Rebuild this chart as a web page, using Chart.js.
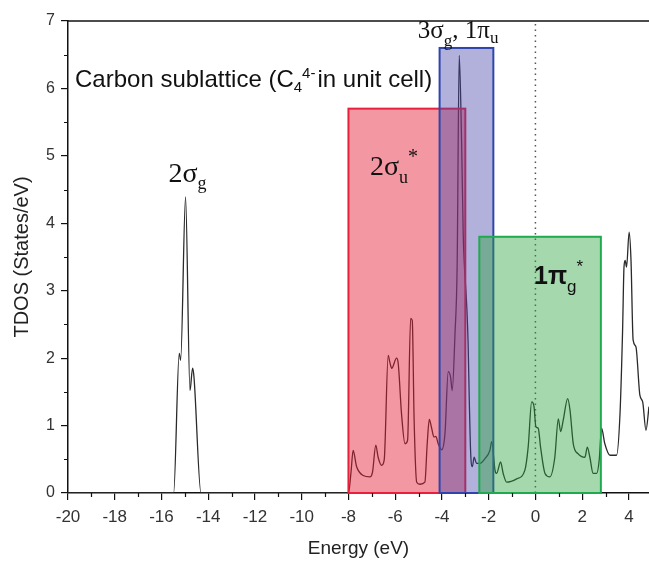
<!DOCTYPE html>
<html>
<head>
<meta charset="utf-8">
<script src="https://cdn.jsdelivr.net/npm/chart.js@4"></script>
<style>
  html, body { margin: 0; padding: 0; background: #fff; }
  #chart { display: block; }
</style>
</head>
<body>
<canvas id="chart" width="649" height="563"></canvas>
<script>
// Energy axis (eV) and total DOS
const energy = [
    -20, -15.6, -15.48, -15.24, -15.18, -14.97, -14.78, -14.67, -14.61, -14.31,
    -8.0, -7.89, -7.80, -7.65, -7.37, -7.08, -6.97, -6.83, -6.73, -6.58, -6.47,
    -6.30, -6.23, -6.15, -5.94, -5.87, -5.73, -5.58, -5.47, -5.34, -5.27, -5.19,
    -5.08, -4.94, -4.73, -4.63, -4.54, -4.44, -4.34, -4.26, -4.16, -4.01, -3.87,
    -3.73, -3.63, -3.56, -3.44, -3.35, -3.26, -3.16, -3.09, -3.05, -2.93, -2.88,
    -2.83, -2.77, -2.70, -2.62, -2.52, -2.37, -2.16, -1.95, -1.87, -1.73, -1.66,
    -1.49, -1.38, -1.23, -0.80, -0.45, -0.31, -0.16, -0.06, 0.02, 0.12, 0.22,
    0.41, 0.62, 0.83, 0.98, 1.08, 1.19, 1.38, 1.48, 1.62, 1.83, 2.12, 2.22,
    2.33, 2.47, 2.62, 2.73, 2.83, 2.97, 3.19, 3.47, 3.62, 3.73, 3.79, 3.84,
    3.90, 4.01, 4.09, 4.18, 4.30, 4.47, 4.59, 4.73, 4.86
];
const tdos = [
    0, 0, 0, 2.07, 1.97, 4.39, 1.52, 1.85, 1.72, 0,
    0, 0.31, 0.63, 0.39, 0.26, 0.24, 0.31, 0.71, 0.53, 0.41, 0.49,
    2.04, 1.94, 1.85, 2.0, 1.92, 1.18, 0.73, 0.78, 2.59, 2.56, 1.08,
    0.16, 0.13, 0.16, 0.73, 1.09, 0.96, 0.83, 0.84, 0.73, 0.64, 0.88,
    1.8, 1.72, 1.52, 2.37, 3.35, 6.49, 5.23, 3.85, 3.45, 2.71, 2.22,
    1.38, 0.59, 0.39, 0.53, 0.44, 0.44, 0.51, 0.63, 0.76, 0.34, 0.29,
    0.46, 0.29, 0.16, 0.21, 0.34, 0.68, 1.35, 1.28, 0.98, 0.96, 0.68,
    0.29, 0.24, 0.53, 1.10, 0.91, 1.08, 1.40, 1.23, 0.73, 0.58, 0.53, 0.68,
    0.53, 0.29, 0.29, 0.49, 0.96, 0.73, 0.56, 0.56, 1.18, 2.41, 3.35, 3.45,
    3.35, 3.87, 3.45, 2.27, 2.17, 1.45, 1.35, 0.93, 1.28
];

// Orbital bands (energy window and box height)
const bandStart = [-8.0, -4.1, -2.4];
const bandEnd = [-3.0, -1.8, 2.8];
const bandTop = [5.7, 6.6, 3.8];

const fermiLevel = 0;
const xMin = -20, xMax = 4.86;
const yMin = 0, yMax = 7;

// styling for each band box
const bandStyles = [
    { fill: 'rgba(228, 30, 55, 0.46)', stroke: '#e8203c' },
    { fill: 'rgba(70, 70, 170, 0.42)', stroke: '#2f45ad' },
    { fill: 'rgba(40, 165, 60, 0.42)', stroke: '#1faa50' }
];

const SANS = '"Liberation Sans", Arial, sans-serif';
const SERIF = '"Liberation Serif", "Times New Roman", serif';

// draw a string made of pieces (sub/superscripts)
function drawParts(ctx, x, y, parts) {
    let cx = x;
    parts.forEach(p => {
        ctx.font = p.font;
        ctx.fillText(p.text, cx, y + (p.dy || 0));
        cx += ctx.measureText(p.text).width + (p.gap || 0);
    });
}

const bandsPlugin = {
    id: 'bands',
    afterDatasetsDraw(chart) {
        const { ctx, scales: { x, y } } = chart;
        ctx.save();
        bandStart.forEach((s, i) => {
            const x0 = x.getPixelForValue(s);
            const x1 = x.getPixelForValue(bandEnd[i]);
            const y0 = y.getPixelForValue(0);
            const y1 = y.getPixelForValue(bandTop[i]);
            ctx.fillStyle = bandStyles[i].fill;
            ctx.fillRect(x0, y1, x1 - x0, y0 - y1);
            ctx.strokeStyle = bandStyles[i].stroke;
            ctx.lineWidth = 2;
            ctx.strokeRect(x0, y1, x1 - x0, y0 - y1);
        });
        ctx.restore();
    }
};

const decorPlugin = {
    id: 'decor',
    afterDraw(chart) {
        const { ctx, chartArea, scales: { x, y } } = chart;
        ctx.save();

        // top frame line
        ctx.strokeStyle = '#111';
        ctx.lineWidth = 1.5;
        ctx.beginPath();
        ctx.moveTo(chartArea.left, chartArea.top);
        ctx.lineTo(chartArea.right, chartArea.top);
        ctx.stroke();

        // minor ticks
        ctx.lineWidth = 1.2;
        ctx.beginPath();
        for (let v = xMin + 1; v <= xMax; v += 2) {
            const px = Math.round(x.getPixelForValue(v)) + 0.5;
            ctx.moveTo(px, chartArea.bottom);
            ctx.lineTo(px, chartArea.bottom + 4);
        }
        for (let v = 0.5; v < yMax; v += 1) {
            const py = Math.round(y.getPixelForValue(v)) + 0.5;
            ctx.moveTo(chartArea.left, py);
            ctx.lineTo(chartArea.left - 4, py);
        }
        ctx.stroke();

        // annotations
        ctx.fillStyle = '#111';
        ctx.textBaseline = 'alphabetic';
        ctx.textAlign = 'left';
        const at = (e, t) => [x.getPixelForValue(e), y.getPixelForValue(t)];

        let [px, py] = at(-19.7, 6.02);
        drawParts(ctx, px, py, [
            { text: 'Carbon sublattice (C', font: '24px ' + SANS },
            { text: '4', font: '15px ' + SANS, dy: 5 },
            { text: '4-', font: '15px ' + SANS, dy: -9, gap: 2 },
            { text: 'in unit cell)', font: '24px ' + SANS }
        ]);

        [px, py] = at(-15.7, 4.61);
        drawParts(ctx, px, py, [
            { text: '2σ', font: '28px ' + SERIF },
            { text: 'g', font: '18px ' + SERIF, dy: 7 }
        ]);

        [px, py] = at(-7.08, 4.71);
        drawParts(ctx, px, py, [
            { text: '2σ', font: '28px ' + SERIF },
            { text: 'u', font: '18px ' + SERIF, dy: 8 },
            { text: '*', font: '20px ' + SERIF, dy: -12 }
        ]);

        [px, py] = at(-5.03, 6.75);
        drawParts(ctx, px, py, [
            { text: '3σ', font: '25px ' + SERIF },
            { text: 'g', font: '17px ' + SERIF, dy: 8 },
            { text: ', 1π', font: '25px ' + SERIF },
            { text: 'u', font: '17px ' + SERIF, dy: 5 }
        ]);

        [px, py] = at(-0.06, 3.1);
        drawParts(ctx, px, py, [
            { text: '1π', font: 'bold 25px ' + SANS },
            { text: 'g', font: '17px ' + SANS, dy: 8 },
            { text: '*', font: '17px ' + SANS, dy: -12 }
        ]);

        ctx.restore();
    }
};

const ctx = document.getElementById('chart');

new Chart(ctx, {
    type: 'line',
    data: {
        datasets: [
            {
                label: 'TDOS',
                data: energy.map((e, i) => ({ x: e, y: tdos[i] })),
                borderColor: '#2a2a2a',
                borderWidth: 1.3,
                pointRadius: 0,
                cubicInterpolationMode: 'monotone',
                fill: false,
                order: 1
            },
            {
                label: 'Fermi level',
                data: [{ x: fermiLevel, y: yMin }, { x: fermiLevel, y: yMax }],
                borderColor: '#555',
                borderWidth: 1.5,
                borderDash: [1.5, 4],
                pointRadius: 0,
                fill: false,
                order: 2
            }
        ]
    },
    options: {
        responsive: false,
        animation: false,
        layout: { padding: { top: 21, right: 0, left: 0, bottom: 0 } },
        plugins: {
            legend: { display: false },
            tooltip: { enabled: false }
        },
        scales: {
            x: {
                type: 'linear',
                min: xMin,
                max: xMax,
                afterFit: s => { s.height = 70; },
                grid: { drawOnChartArea: false, tickLength: 7, color: '#111', lineWidth: 1.2 },
                border: { color: '#111', width: 1.5 },
                ticks: {
                    stepSize: 2,
                    includeBounds: false,
                    padding: 7,
                    color: '#333',
                    font: { family: SANS, size: 17 },
                    maxRotation: 0
                },
                title: {
                    display: true,
                    text: 'Energy (eV)',
                    color: '#222',
                    font: { family: SANS, size: 19 },
                    padding: { top: 0, bottom: 3 }
                }
            },
            y: {
                type: 'linear',
                min: yMin,
                max: yMax,
                afterFit: s => { s.width = 68; },
                grid: { drawOnChartArea: false, tickLength: 7, color: '#111', lineWidth: 1.2 },
                border: { color: '#111', width: 1.5 },
                ticks: {
                    stepSize: 1,
                    padding: 6,
                    color: '#333',
                    font: { family: SANS, size: 16 }
                },
                title: {
                    display: true,
                    text: 'TDOS (States/eV)',
                    color: '#222',
                    font: { family: SANS, size: 20 },
                    padding: { top: 10, bottom: 0 }
                }
            }
        }
    },
    plugins: [bandsPlugin, decorPlugin]
});
</script>
</body>
</html>
